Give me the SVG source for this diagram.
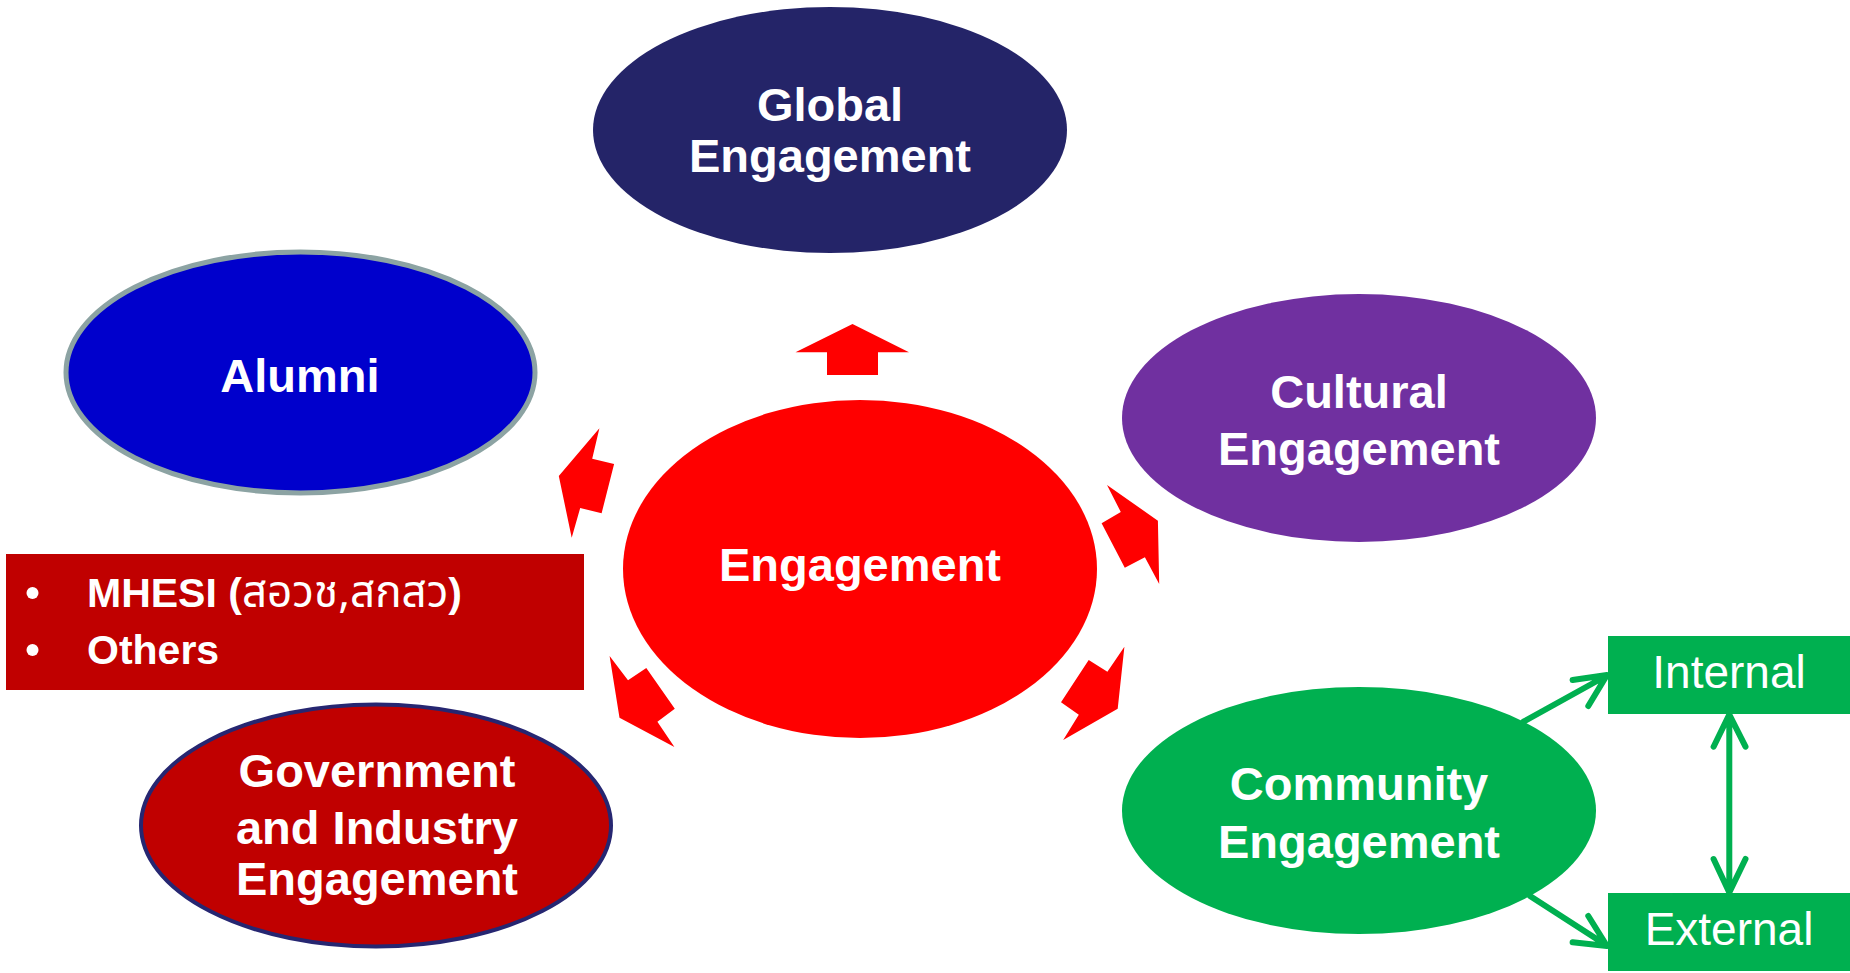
<svg xmlns="http://www.w3.org/2000/svg" width="1850" height="973" viewBox="0 0 1850 973">
<style>
.t{font-family:"Liberation Sans",Arial,sans-serif;font-weight:bold;font-size:47px;fill:#fff;text-anchor:middle}
.r{fill:#FF0000}
.g{fill:none;stroke:#00B050;stroke-width:6;stroke-linecap:round;stroke-linejoin:round}
.lt{font-family:"Liberation Sans",Arial,sans-serif;font-size:46px;fill:#fff;text-anchor:middle}
.bl{font-family:"Liberation Sans",Arial,sans-serif;font-weight:bold;font-size:41px;fill:#fff}
</style>
<rect width="1850" height="973" fill="#fff"/>
<g id="global">
<ellipse cx="830" cy="130" rx="237" ry="123" fill="#242468"/>
<text class="t" x="830" y="121">Global</text>
<text class="t" x="830" y="172">Engagement</text>
</g>
<g id="alumni">
<ellipse cx="300.5" cy="372.5" rx="234.5" ry="120.5" fill="#0000CC" stroke="#8CA3A3" stroke-width="5"/>
<text class="t" x="300" y="392">Alumni</text>
</g>
<g id="cultural">
<ellipse cx="1359" cy="418" rx="237" ry="124" fill="#7030A0"/>
<text class="t" x="1359" y="408">Cultural</text>
<text class="t" x="1359" y="465">Engagement</text>
</g>
<g id="engagement">
<ellipse cx="860" cy="569" rx="237" ry="169" fill="#FF0000"/>
<text class="t" x="860" y="581">Engagement</text>
</g>
<g id="mhesi">
<rect x="6" y="554" width="578" height="136" fill="#C00000"/>
<circle cx="32.5" cy="593" r="6" fill="#fff"/>
<circle cx="32.5" cy="650" r="6" fill="#fff"/>
<text class="bl" x="87" y="607">MHESI (<tspan font-weight="normal" font-size="44" font-family="'Noto Sans Thai','Liberation Sans','DejaVu Sans',sans-serif">สอวช,สกสว</tspan>)</text>
<text class="bl" x="87" y="664">Others</text>
</g>
<g id="government">
<ellipse cx="376" cy="825.5" rx="235" ry="121" fill="#C00000" stroke="#262671" stroke-width="4"/>
<text class="t" x="377" y="787">Government</text>
<text class="t" x="377" y="844">and Industry</text>
<text class="t" x="377" y="895">Engagement</text>
</g>
<g id="community">
<ellipse cx="1359" cy="810.5" rx="237" ry="123.5" fill="#00B050"/>
<text class="t" x="1359" y="800">Community</text>
<text class="t" x="1359" y="858">Engagement</text>
</g>
<g id="internal">
<rect x="1608" y="636" width="242" height="78" fill="#00B050"/>
<text class="lt" x="1729" y="688">Internal</text>
</g>
<g id="external">
<rect x="1608" y="893" width="242" height="78" fill="#00B050"/>
<text class="lt" x="1729" y="945">External</text>
</g>
<g id="connectors">
<polygon class="r" points="852.5,324 909,352.3 878,352.3 878,375 827,375 827,352.3 795.5,352.3"/>
<polygon class="r" points="599.4,428.3 592.2,458.7 614.1,464 601.6,513.3 580.2,508 571.7,537.7 558.8,476"/>
<polygon class="r" points="1107,485 1157.9,520.7 1159.2,584 1144.9,557.3 1124.8,567.7 1101.6,523.3 1120.8,512"/>
<polygon class="r" points="609.6,656 628,680.3 646.3,668 674.8,708.7 657.4,721.7 674.4,747 619.5,717.7"/>
<polygon class="r" points="1124.4,646.7 1117.7,708.7 1063.2,740 1078.8,714.7 1061,702.3 1088.7,660 1107.4,671.7"/>
<path class="g" d="M1523.5,721.7 L1606,676 M1572.6,680 L1607,675 L1588.3,706"/>
<path class="g" d="M1530,896 L1606,945 M1572.6,942.3 L1607,946 L1588.3,916"/>
<path class="g" d="M1729.3,716 L1729.3,891 M1713.6,746.7 L1729.3,714.5 L1745.5,746.7 M1713.6,859 L1729.3,892.5 L1745.5,859"/>
</g>
</svg>
